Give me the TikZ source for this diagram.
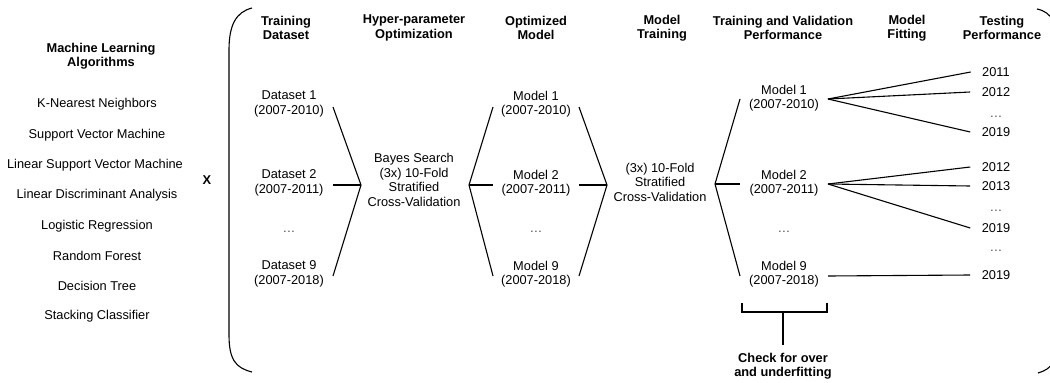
\documentclass[tikz,border=0pt]{standalone}
\usepackage{fontspec}
\setmainfont{Liberation Sans}
\begin{document}
\begin{tikzpicture}[x=1pt,y=-1pt,line width=1.1pt,
  lbl/.style={font=\fontsize{12.8}{14.5}\selectfont, align=center, inner sep=0pt},
  hdr/.style={font=\fontsize{12.8}{14.5}\selectfont\bfseries, align=center, inner sep=0pt},
  yr/.style={font=\fontsize{12.8}{14.5}\selectfont, inner ysep=0pt, inner xsep=11pt},
  dts/.style={font=\fontsize{12.8}{14.5}\selectfont, inner sep=0pt, anchor=base, text=black!70},
  conn/.style={line width=1.1pt, black}]
\useasboundingbox (0,0) rectangle (1050,383);
% parentheses
\draw[conn] (252,8) .. controls (236,12) and (229,25) .. (229,50) -- (229,335) .. controls (229,360) and (236,368) .. (252,372);
\draw[conn] (1037,9) .. controls (1052,12) and (1059,25) .. (1059,50) -- (1059,335) .. controls (1059,360) and (1052,369) .. (1038,373);
% headers
\node[hdr] (hML) at (101,56) {Machine Learning\\Algorithms};
\node[hdr] (hTD) at (286,28) {Training\\Dataset};
\node[hdr] (hHP) at (414,28) {Hyper-parameter\\Optimization};
\node[hdr] (hOM) at (536,28) {Optimized\\Model};
\node[hdr] (hMT) at (662,28) {Model\\Training};
\node[hdr] (hTV) at (783,28) {Training and Validation\\Performance};
\node[hdr] (hMF) at (907,28) {Model\\Fitting};
\node[hdr] (hTP) at (1002,28) {Testing\\Performance};
% algorithms
\node[lbl] (a1) at (97,104) {K-Nearest Neighbors};
\node[lbl] (a2) at (97,135) {Support Vector Machine};
\node[lbl] (a3) at (95,165) {Linear Support Vector Machine};
\node[lbl] (a4) at (97,195) {Linear Discriminant Analysis};
\node[lbl] (a5) at (97,226) {Logistic Regression};
\node[lbl] (a6) at (97,256) {Random Forest};
\node[lbl] (a7) at (97,286) {Decision Tree};
\node[lbl] (a8) at (97,316) {Stacking Classifier};
\node[hdr] (X) at (207,180) {X};
% datasets
\node[lbl] (ds1) at (289,104) {Dataset 1\\(2007-2010)};
\node[lbl] (ds2) at (289,183) {Dataset 2\\(2007-2011)};
\node[dts] (dsd) at (289,232) {\ldots};
\node[lbl] (ds9) at (289,274) {Dataset 9\\(2007-2018)};
% chevron 1
\coordinate (c1t) at (333,107);
\coordinate (c1m) at (333,185);
\coordinate (c1b) at (333,276);
\coordinate (c1a) at (361,185);
\draw[conn] (c1t) -- (c1a) -- (c1b);
\draw[conn] (c1m) -- (c1a);
\node[lbl] (bayes) at (414,180) {Bayes Search\\(3x) 10-Fold\\Stratified\\Cross-Validation};
% chevron 2
\coordinate (c2a) at (469,185);
\coordinate (c2t) at (493,107);
\coordinate (c2m) at (493,185);
\coordinate (c2b) at (493,276);
\draw[conn] (c2t) -- (c2a) -- (c2b);
\draw[conn] (c2a) -- (c2m);
% optimized models
\node[lbl] (m1) at (536,104) {Model 1\\(2007-2010)};
\node[lbl] (m2) at (536,183) {Model 2\\(2007-2011)};
\node[dts] (md) at (536,232) {\ldots};
\node[lbl] (m9) at (536,274) {Model 9\\(2007-2018)};
% chevron 3
\coordinate (c3t) at (579,107);
\coordinate (c3m) at (579,185);
\coordinate (c3b) at (579,276);
\coordinate (c3a) at (607,185);
\draw[conn] (c3t) -- (c3a) -- (c3b);
\draw[conn] (c3m) -- (c3a);
\node[lbl] (cv) at (660,182) {(3x) 10-Fold\\Stratified\\Cross-Validation};
% chevron 4
\coordinate (c4a) at (715,184);
\coordinate (c4t) at (740,99);
\coordinate (c4m) at (740,184);
\coordinate (c4b) at (740,276);
\draw[conn] (c4t) -- (c4a) -- (c4b);
\draw[conn] (c4a) -- (c4m);
% TVP models
\node[lbl] (p1) at (784,98) {Model 1\\(2007-2010)};
\node[lbl] (p2) at (784,183) {Model 2\\(2007-2011)};
\node[dts] (pd) at (784,232) {\ldots};
\node[lbl] (p9) at (784,274) {Model 9\\(2007-2018)};
\coordinate (o1) at (828,99);
\coordinate (o2) at (828,184);
\coordinate (o9) at (828,276);
% years
\node[yr] (y11) at (996,72) {2011};
\node[yr] (y12) at (996,92) {2012};
\node[dts] (yd1) at (996,117) {\ldots};
\node[yr] (y19a) at (996,132) {2019};
\node[yr] (y12b) at (996,167) {2012};
\node[yr] (y13) at (996,186) {2013};
\node[dts] (yd2) at (996,211) {\ldots};
\node[yr] (y19b) at (996,228) {2019};
\node[dts] (yd3) at (996,251) {\ldots};
\node[yr] (y19c) at (996,275) {2019};
\draw[conn] (o1) -- (y11.west);
\draw[conn] (o1) -- (y12.west);
\draw[conn] (o1) -- (y19a.west);
\draw[conn] (o2) -- (y12b.west);
\draw[conn] (o2) -- (y13.west);
\draw[conn] (o2) -- (y19b.west);
\draw[conn] (o9) -- (y19c.west);
% bracket
\coordinate (bl) at (742,303);
\coordinate (br) at (827,303);
\coordinate (bs) at (783,312);
\coordinate (be) at (783,345);
\node[hdr] (chk) at (783,366) {Check for over\\and underfitting};
\draw[conn] (bl) -- (bl |- bs) -- (br |- bs) -- (br);
\draw[conn] (bs) -- (be);
\end{tikzpicture}
\end{document}
